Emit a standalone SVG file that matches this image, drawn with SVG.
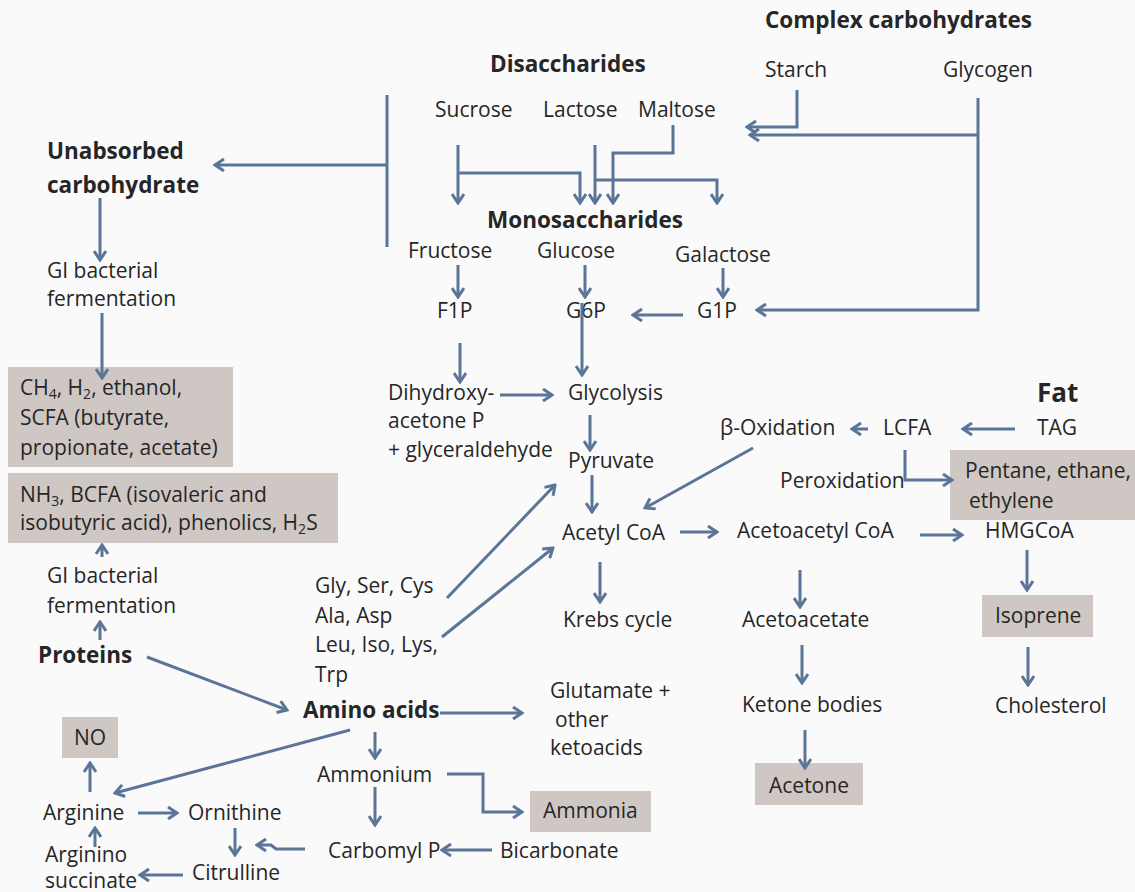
<svg xmlns="http://www.w3.org/2000/svg" width="1135" height="892" viewBox="0 0 1135 892">
<defs>
<style>
text{font-family:"Open Sans","Liberation Sans",sans-serif;font-size:21px;fill:#262626}
.b{font-weight:bold;font-size:22.5px}
.box{fill:#cfc7c3}
.c path{fill:none;stroke:#5b7598;stroke-width:3;marker-end:url(#ah)}
.c path.n{marker-end:none}
</style>
<marker id="ah" markerUnits="userSpaceOnUse" markerWidth="12" markerHeight="14" viewBox="0 0 12 14" refX="10" refY="7" orient="auto">
<path d="M1,1 L10,7 L1,13" fill="none" stroke="#5b7598" stroke-width="3" stroke-linejoin="miter"/>
</marker>
</defs>
<rect width="1135" height="892" fill="#fafafa"/>
<g id="complex"><text class="b" x="765" y="28">Complex carbohydrates</text></g>
<g id="starch"><text x="765" y="77">Starch</text></g>
<g id="glycogen"><text x="943" y="77">Glycogen</text></g>
<g id="disaccharides"><text class="b" x="490" y="72">Disaccharides</text></g>
<g id="sucrose"><text x="435" y="117">Sucrose</text></g>
<g id="lactose"><text x="543" y="117">Lactose</text></g>
<g id="maltose"><text x="638" y="117">Maltose</text></g>
<g id="unabsorbed"><text class="b" x="47" y="159">Unabsorbed</text><text class="b" x="47" y="193">carbohydrate</text></g>
<g id="gi1"><text x="47" y="278">GI  bacterial</text><text x="47" y="306">fermentation</text></g>
<g id="monosaccharides"><text class="b" x="487" y="228">Monosaccharides</text></g>
<g id="fructose"><text x="408" y="258">Fructose</text></g>
<g id="glucose"><text x="537" y="258">Glucose</text></g>
<g id="galactose"><text x="675" y="262">Galactose</text></g>
<g id="f1p"><text x="437" y="318">F1P</text></g>
<g id="g6p"><text x="566" y="318">G6P</text></g>
<g id="g1p"><text x="697" y="318">G1P</text></g>
<g id="dhap"><text x="388" y="400">Dihydroxy-</text><text x="388" y="428">acetone P</text><text x="388" y="457">+ glyceraldehyde</text></g>
<g id="glycolysis"><text x="568" y="400">Glycolysis</text></g>
<g id="pyruvate"><text x="568" y="468">Pyruvate</text></g>
<g id="acetylcoa"><text x="562" y="540">Acetyl CoA</text></g>
<g id="krebs"><text x="563" y="627">Krebs cycle</text></g>
<g id="fat"><text class="b" x="1037" y="402" style="font-size:26px">Fat</text></g>
<g id="boxidation"><text x="720" y="435">β-Oxidation</text></g>
<g id="lcfa"><text x="883" y="435">LCFA</text></g>
<g id="tag"><text x="1037" y="435">TAG</text></g>
<g id="peroxidation"><text x="780" y="488">Peroxidation</text></g>
<g id="pentane"><rect class="box" x="950" y="450" width="185" height="70"/><text x="965" y="478">Pentane, ethane,</text><text x="969" y="508">ethylene</text></g>
<g id="acetoacetylcoa"><text x="737" y="538">Acetoacetyl CoA</text></g>
<g id="hmgcoa"><text x="985" y="538">HMGCoA</text></g>
<g id="isoprene"><rect class="box" x="982" y="595" width="111" height="42"/><text x="995" y="623">Isoprene</text></g>
<g id="cholesterol"><text x="995" y="713">Cholesterol</text></g>
<g id="acetoacetate"><text x="742" y="627">Acetoacetate</text></g>
<g id="ketone"><text x="742" y="712">Ketone bodies</text></g>
<g id="acetone"><rect class="box" x="755" y="763" width="108" height="42"/><text x="769" y="793">Acetone</text></g>
<g id="scfa"><rect class="box" x="8" y="367" width="225" height="100"/><text x="20" y="395">CH<tspan font-size="14" dy="4">4</tspan><tspan dy="-4">, H</tspan><tspan font-size="14" dy="4">2</tspan><tspan dy="-4">, ethanol,</tspan></text><text x="20" y="425">SCFA (butyrate,</text><text x="20" y="455">propionate, acetate)</text></g>
<g id="bcfa"><rect class="box" x="8" y="473" width="330" height="70"/><text x="20" y="502">NH<tspan font-size="14" dy="4">3</tspan><tspan dy="-4">, BCFA (isovaleric and</tspan></text><text x="20" y="530">isobutyric acid), phenolics, H<tspan font-size="14" dy="4">2</tspan><tspan dy="-4">S</tspan></text></g>
<g id="gi2"><text x="47" y="583">GI  bacterial</text><text x="47" y="613">fermentation</text></g>
<g id="aa1"><text x="315" y="593">Gly, Ser, Cys</text><text x="315" y="623">Ala, Asp</text></g>
<g id="aa2"><text x="315" y="652">Leu, Iso, Lys,</text><text x="315" y="682">Trp</text></g>
<g id="proteins"><text class="b" x="38" y="663">Proteins</text></g>
<g id="aminoacids"><text class="b" x="303" y="718">Amino acids</text></g>
<g id="glutamate"><text x="550" y="698">Glutamate +</text><text x="555" y="727">other</text><text x="550" y="755">ketoacids</text></g>
<g id="ammonium"><text x="317" y="782">Ammonium</text></g>
<g id="ammonia"><rect class="box" x="530" y="791" width="121" height="41"/><text x="543" y="818">Ammonia</text></g>
<g id="carbomylp"><text x="328" y="858">Carbomyl P</text></g>
<g id="bicarbonate"><text x="500" y="858">Bicarbonate</text></g>
<g id="no"><rect class="box" x="62" y="717" width="56" height="41"/><text x="90" y="745" text-anchor="middle">NO</text></g>
<g id="arginine"><text x="43" y="820">Arginine</text></g>
<g id="ornithine"><text x="188" y="820">Ornithine</text></g>
<g id="citrulline"><text x="192" y="880">Citrulline</text></g>
<g id="argininosuccinate"><text x="45" y="862">Arginino</text><text x="45" y="888">succinate</text></g>
<g id="connectors" class="c">
<path class="n" d="M387,95 V247"/>
<path d="M387,165 H215"/>
<path d="M100,198 V260"/>
<path d="M102,313 V378"/>
<path d="M102,557 V545"/>
<path d="M100,640 V622"/>
<path d="M458,145 V203"/>
<path d="M458,173 H580 V203"/>
<path d="M595,145 V203"/>
<path d="M595,180 H717 V203"/>
<path d="M673,125 V153 H613 V203"/>
<path d="M797,90 V127 H747"/>
<path d="M978,98 V310 H757"/>
<path d="M978,135 H750"/>
<path d="M458,265 V297"/>
<path d="M585,265 V297"/>
<path d="M723,268 V297"/>
<path d="M683,315 H633"/>
<path d="M460,343 V382"/>
<path d="M582,303 V375"/>
<path d="M500,395 H552"/>
<path d="M590,415 V450"/>
<path d="M592,475 V512"/>
<path d="M753,448 L645,508"/>
<path d="M680,532 H717"/>
<path d="M600,562 V602"/>
<path d="M447,598 L555,485"/>
<path d="M442,637 L553,548"/>
<path d="M868,429 H852"/>
<path d="M1015,429 H963"/>
<path d="M905,450 V480 H952"/>
<path d="M920,535 H962"/>
<path d="M1027,550 V590"/>
<path d="M1028,647 V685"/>
<path d="M800,570 V607"/>
<path d="M802,645 V683"/>
<path d="M805,730 V768"/>
<path d="M147,657 L287,710"/>
<path d="M440,713 H522"/>
<path d="M375,732 V758"/>
<path d="M447,774 H483 V812 H522"/>
<path d="M375,787 V825"/>
<path d="M492,850 H442"/>
<path d="M305,849 H276 L271,845 H257"/>
<path d="M350,730 L115,793"/>
<path d="M90,792 V763"/>
<path d="M138,813 H177"/>
<path d="M235,828 V855"/>
<path d="M183,875 H140"/>
<path d="M95,847 V828"/>
</g>
</svg>
